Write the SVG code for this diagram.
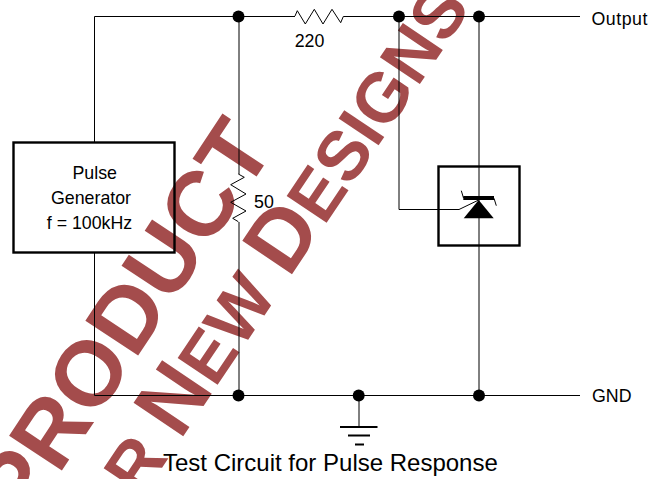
<svg xmlns="http://www.w3.org/2000/svg" width="660" height="479" viewBox="0 0 660 479">
<style>
text{font-family:"Liberation Sans",Arial,sans-serif;fill:#000}
.l{font-size:17.800px}
.wm{font-weight:bold;fill:#a44c4c}
.b{font-size:87px}
.s{font-size:70px}
.w{fill:none;stroke:#000;stroke-width:1}
.box{fill:none;stroke:#000;stroke-width:2.400}
.dot{fill:#000}
</style>
<rect width="660" height="479" fill="#fff"/>
<g id="watermark">
<text class="wm" font-size="92" transform="translate(24.600,527) rotate(-56.500)">PRODUCT</text>
<text class="wm s" transform="translate(141,499) rotate(-56.100)">R <tspan class="b">N</tspan>EW <tspan class="b">D</tspan>ESIGNS</text>
</g>
<g id="connectors">
<path class="w" d="M94.500 142V16.500H295M343.300 16.500H580M94.500 253V395.500H580"/>
<path class="w" d="M239 16V174M239 222V395"/>
<path class="w" d="M399 16V209.500H438"/>
<path class="w" d="M479 16V395"/>
<path class="w" d="M359 395V427"/>
</g>
<g id="node-pulse-generator">
<rect class="box" x="13.500" y="142.500" width="161" height="110"/>
<text class="l" x="94.700" y="179" text-anchor="middle">Pulse</text>
<text class="l" x="91" y="203.500" text-anchor="middle">Generator</text>
<text class="l" x="89.500" y="229" text-anchor="middle">f = 100kHz</text>
</g>
<g id="node-r220">
<path class="w" d="M295 16L297.300 10.700L305.300 24L314.300 9.300L323 24L332 9.300L340.700 22.700L343.300 16.500"/>
<text class="l" x="309.500" y="47" text-anchor="middle">220</text>
</g>
<g id="node-r50">
<path class="w" d="M238.300 174L244.300 177.300L230.700 184.700L246 194L230.700 202.300L246 211L232.700 218.300L238.300 221.700"/>
<text class="l" x="264" y="208" text-anchor="middle">50</text>
</g>
<g id="node-zener">
<rect class="box" x="438.500" y="166.500" width="81" height="79"/>
<path class="w" d="M399 209.500H459L478.700 200"/>
<polygon points="478.700,200 463.700,218.300 493.700,218.300" fill="#000"/>
<rect x="463.300" y="196" width="30.700" height="4" fill="#000"/>
<path class="w" d="M461.300 190.700L463.500 198M494 198.300L496.300 205.700"/>
</g>
<g id="node-j1"><circle class="dot" cx="238.500" cy="16.500" r="6"/></g>
<g id="node-j2"><circle class="dot" cx="399" cy="16.500" r="6"/></g>
<g id="node-j3"><circle class="dot" cx="479" cy="16.500" r="6"/></g>
<g id="node-j4"><circle class="dot" cx="238.500" cy="395.500" r="6"/></g>
<g id="node-j5"><circle class="dot" cx="358.700" cy="395.500" r="6"/></g>
<g id="node-j6"><circle class="dot" cx="479" cy="395.500" r="6"/></g>
<g id="node-ground">
<path d="M340 427H377.500" stroke="#000" stroke-width="2" fill="none"/>
<path d="M348 435.500H370" stroke="#000" stroke-width="2" fill="none"/>
<path d="M355 444.500H364" stroke="#000" stroke-width="2" fill="none"/>
</g>
<g id="label-output"><text class="l" x="591.500" y="25" letter-spacing=".5">Output</text></g>
<g id="label-gnd"><text class="l" x="592" y="402">GND</text></g>
<g id="title"><text x="163" y="471" font-size="24">Test Circuit for Pulse Response</text></g>
</svg>
